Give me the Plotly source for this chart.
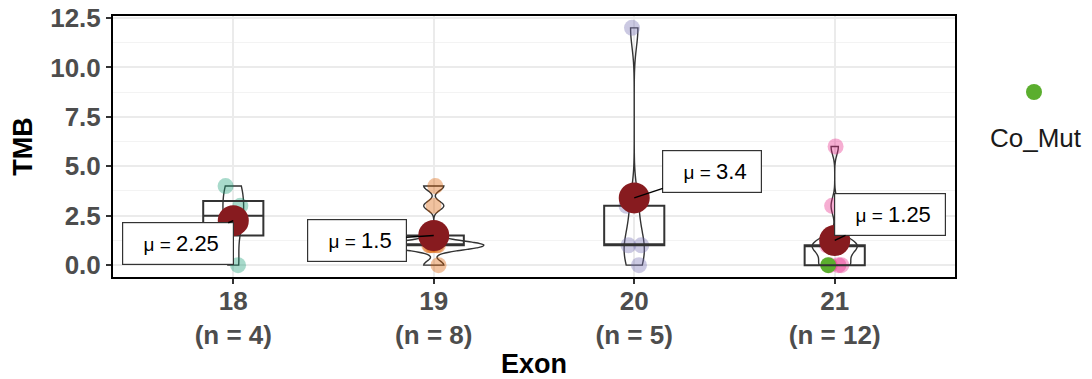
import numpy as np
import plotly.graph_objects as go

# ---------------- data ----------------
exons = ["18", "19", "20", "21"]
tmb_18 = [4, 3, 2, 0]
tmb_19 = [4, 3, 1, 1, 1, 1, 1, 0]
tmb_20 = [12, 3, 1, 1, 0]
tmb_21 = [6, 3, 1, 1, 1, 1, 1, 1, 0, 0, 0, 0]
comut_21 = [False, False, False, False, False, False, False, False, True, False, False, False]
point_colors = ["rgba(27,158,119,0.38)", "rgba(217,95,2,0.38)",
                "rgba(117,112,179,0.38)", "rgba(231,41,138,0.38)"]
comut_color = "#5BAE2E"
mean_color = "#871B1F"
y_ticks = [0.0, 2.5, 5.0, 7.5, 10.0, 12.5]

values = [tmb_18, tmb_19, tmb_20, tmb_21]
flags = [[False] * len(tmb_18), [False] * len(tmb_19), [False] * len(tmb_20), comut_21]
labels = [f"{e}<br>(n = {len(v)})" for e, v in zip(exons, values)]

FONT = "Liberation Sans, Arial, sans-serif"


def bw_nrd0(v):
    v = np.asarray(v, float)
    q1, q3 = np.percentile(v, [25, 75])
    s = min(np.std(v, ddof=1), (q3 - q1) / 1.34)
    if s == 0:
        s = np.std(v, ddof=1)
    return 0.9 * s * len(v) ** -0.2


def max_density(v, bw):
    v = np.asarray(v, float)
    g = np.linspace(v.min(), v.max(), 800)
    d = np.exp(-0.5 * ((g[:, None] - v[None, :]) / bw) ** 2).sum(1) / (len(v) * bw * np.sqrt(2 * np.pi))
    return d.max()


bws = [bw_nrd0(v) for v in values]
mds = [max_density(v, b) for v, b in zip(values, bws)]
vio_w = [0.5 * m / max(mds) for m in mds]

fig = go.Figure()

# jittered points
for lab, v, f, c in zip(labels, values, flags, point_colors):
    ys = [y for y, ff in zip(v, f) if not ff]
    fig.add_trace(go.Box(x=[lab] * len(ys), y=ys, boxpoints="all", jitter=0.7, pointpos=0,
                         width=0.13, fillcolor="rgba(0,0,0,0)", line=dict(color="rgba(0,0,0,0)", width=0),
                         marker=dict(color=c, size=16), showlegend=False))
    yc = [y for y, ff in zip(v, f) if ff]
    if yc:
        fig.add_trace(go.Box(x=[lab] * len(yc), y=yc, boxpoints="all", jitter=0, pointpos=-0.5,
                             width=0.13, fillcolor="rgba(0,0,0,0)", line=dict(color="rgba(0,0,0,0)", width=0),
                             marker=dict(color=comut_color, size=16), showlegend=False, name="Co_Mut"))

# boxplots (no whiskers)
q1s, meds, q3s = [], [], []
for v in values:
    a, m, b = np.percentile(v, [25, 50, 75])
    q1s.append(a); meds.append(m); q3s.append(b)
fig.add_trace(go.Box(x=labels, q1=q1s, median=meds, q3=q3s, lowerfence=q1s, upperfence=q3s,
                     width=0.3, whiskerwidth=0, fillcolor="rgba(0,0,0,0)",
                     line=dict(color="#333333", width=2), showlegend=False, boxpoints=False))

# violins
for lab, v, b, w in zip(labels, values, bws, vio_w):
    fig.add_trace(go.Violin(x=[lab] * len(v), y=v, bandwidth=b, spanmode="hard", scalemode="width",
                            width=w, points=False, fillcolor="rgba(0,0,0,0)",
                            line=dict(color="#333333", width=1.4), showlegend=False,
                            box_visible=False, meanline_visible=False))

# means
means = [float(np.mean(v)) for v in values]
fig.add_trace(go.Scatter(x=labels, y=means, mode="markers",
                         marker=dict(color=mean_color, size=31), showlegend=False))

offsets = [(-55, 23), (-77, 5), (78, -26), (55, -26)]
for lab, m, (ax, ay) in zip(labels, means, offsets):
    fig.add_annotation(x=lab, y=m, ax=ax, ay=ay, axref="pixel", ayref="pixel",
                       text=f"&nbsp;&nbsp;<span style='font-size:19px'>μ = </span>{m:g}&nbsp;",
                       showarrow=True, arrowhead=0, arrowwidth=1.5, arrowcolor="black", standoff=0,
                       font=dict(family=FONT, size=22, color="black"),
                       bgcolor="white", bordercolor="#333333", borderwidth=1.2, borderpad=8)

# manual legend (key above label)
fig.add_shape(type="circle", xref="paper", yref="paper", xsizemode="pixel", ysizemode="pixel",
              xanchor=(1034 - 113) / 842, yanchor=(277 - 92) / 261, x0=-8, x1=8, y0=-8, y1=8,
              fillcolor=comut_color, line=dict(width=0))
fig.add_annotation(xref="paper", yref="paper", x=(1036 - 113) / 842, y=(277 - 138) / 261,
                   text="Co_Mut", showarrow=False, xanchor="center", yanchor="middle",
                   font=dict(family=FONT, size=26, color="#1A1A1A"))

fig.update_layout(
    width=1092, height=379, margin=dict(l=113, r=137, t=16, b=102, autoexpand=False),
    plot_bgcolor="white", paper_bgcolor="white",
    boxmode="overlay", violinmode="overlay", showlegend=False,
    font=dict(family=FONT),
)
fig.update_xaxes(type="category", categoryorder="array", categoryarray=labels, automargin=False,
                 range=[-0.6, 3.6], showgrid=True, gridcolor="#EBEBEB", gridwidth=1.5,
                 showline=True, mirror=True, linecolor="black", linewidth=2,
                 ticks="outside", ticklen=5, tickcolor="#333333", tickwidth=1.5,
                 ticklabelstandoff=-5,
                 tickfont=dict(family=FONT, size=26, color="#4D4D4D", weight="bold"),
                 title=dict(text="Exon", font=dict(family=FONT, size=27, color="black", weight="bold"),
                            standoff=5))
fig.update_yaxes(range=[-0.6, 12.6], tickvals=y_ticks, ticktext=[f"{t:.1f}" for t in y_ticks],
                 automargin=False,
                 showgrid=True, gridcolor="#EBEBEB", gridwidth=1.5, zeroline=False,
                 minor=dict(dtick=1.25, tick0=0, showgrid=True, gridcolor="#F3F3F3", gridwidth=1),
                 showline=True, mirror=True, linecolor="black", linewidth=2,
                 ticks="outside", ticklen=5, tickcolor="#333333", tickwidth=1.5,
                 tickfont=dict(family=FONT, size=26, color="#4D4D4D", weight="bold"),
                 title=dict(text="TMB", font=dict(family=FONT, size=27, color="black", weight="bold"),
                            standoff=10))

fig.write_html("out.html")
